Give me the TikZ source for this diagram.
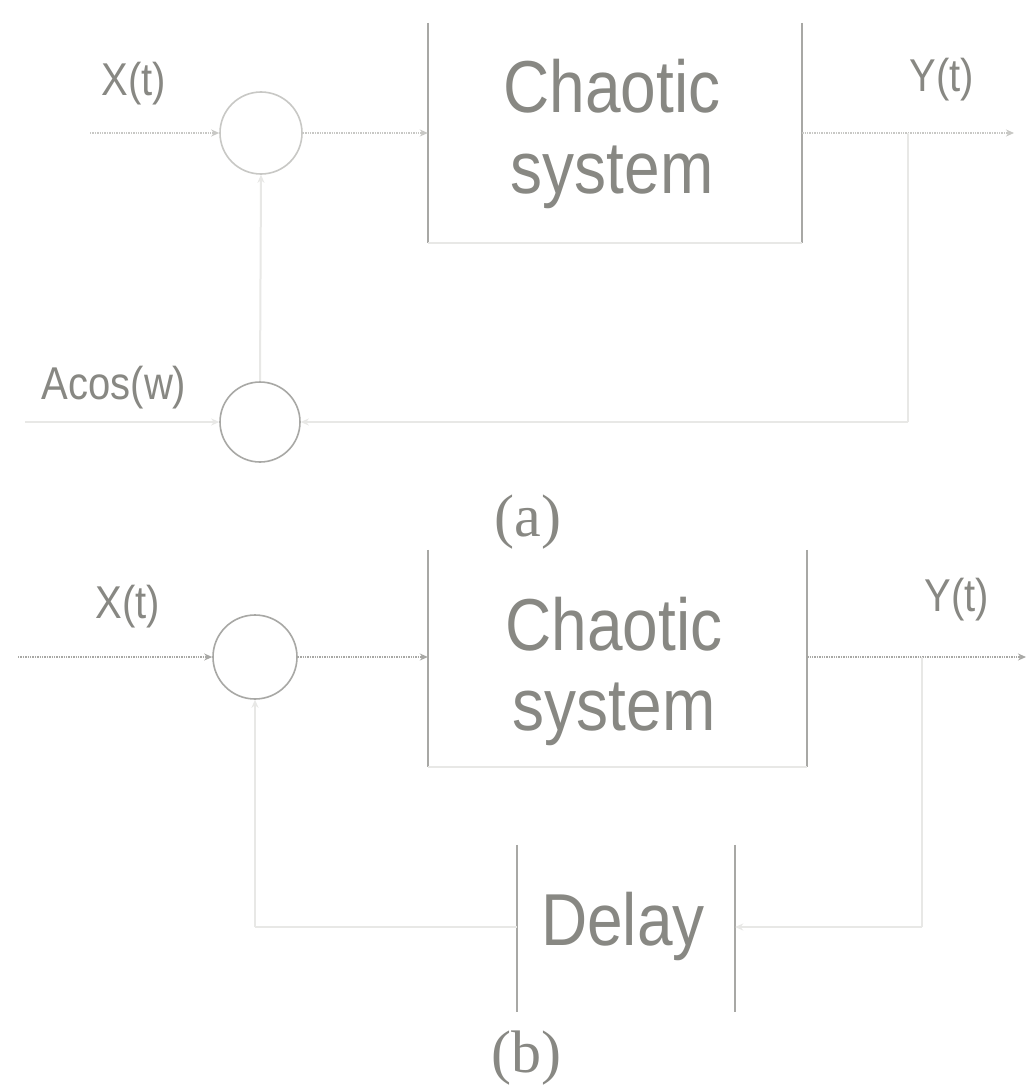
\documentclass[tikz,border=0pt]{standalone}
\usepackage{fontspec}
\usepackage{graphicx}
\setmainfont{Liberation Sans}
\newfontfamily\serifx{Liberation Serif}
\usetikzlibrary{arrows.meta}
\definecolor{txt}{RGB}{136,136,131}
\definecolor{side}{RGB}{168,168,165}
\definecolor{wire}{RGB}{200,200,197}
\definecolor{faint}{RGB}{232,232,230}
\newcommand{\tallx}[1]{\scalebox{1}[1.15]{#1}}
\begin{document}
\begin{tikzpicture}[x=1pt,y=-1pt,
  blk/.style={draw=none,inner sep=0pt},
  big/.style={text=txt,inner sep=0pt,anchor=base,font=\fontsize{64}{70}\selectfont},
  sumc/.style={circle,draw=wire,line width=1.6pt,inner sep=0pt},
  bside/.style={draw=side,line width=2.2pt},
  bfaint/.style={draw=faint,line width=2pt},
  wirel/.style={draw=wire,line width=1.4pt,densely dotted},
  fbl/.style={draw=faint,line width=2pt},
  arr/.style={-{Stealth[length=8pt,width=7pt]}},
  lbl/.style={text=txt,inner sep=0pt,font=\fontsize{40}{44}\selectfont},
  figcap/.style={text=txt,inner sep=0pt,font=\serifx\fontsize{60}{64}\selectfont}]
\useasboundingbox[fill=white] (0,0) rectangle (1031,1089);

% ---------- (a) ----------
\node[blk,minimum width=374pt,minimum height=220pt] (ca) at (615,133) {};
\draw[bside] (ca.north west) -- (ca.south west);
\draw[bside] (ca.north east) -- (ca.south east);
\draw[bfaint] (ca.south west) -- (ca.south east);
\node[big] (ca1) at (612,113) {\tallx{Chaotic}};
\node[big] (ca2) at (612,193) {\tallx{system}};

\node[sumc,minimum size=82pt] (s1) at (261,133) {};
\node[sumc,minimum size=80pt,draw=side] (m1) at (260,422) {};

\coordinate (xin1) at (90,133);
\coordinate (yout1) at (1014,133);
\coordinate (fa1) at (908,133);
\coordinate (fa2) at (908,422);
\coordinate (ain) at (25,422);

\draw[wirel,arr] (xin1) -- (s1.west);
\draw[wirel,arr] (s1.east) -- (ca.west |- s1.east);
\draw[wirel,arr] (ca.east |- s1.east) -- (yout1);
\draw[fbl] (fa1) -- (fa2);
\draw[fbl,arr] (fa2) -- (m1.east);
\draw[fbl,arr] (ain) -- (m1.west);
\draw[fbl,arr] (m1.north) -- (s1.south);

\node[lbl] (xl1) at (134,84) {\tallx{X(t)}};
\node[lbl] (yl1) at (942,80) {\tallx{Y(t)}};
\node[lbl] (al) at (114,388) {\tallx{Acos(w)}};
\node[figcap] (capa) at (528,522) {(a)};

% ---------- (b) ----------
\node[blk,minimum width=379pt,minimum height=217pt] (cb) at (617.5,658.5) {};
\draw[bside] (cb.north west) -- (cb.south west);
\draw[bside] (cb.north east) -- (cb.south east);
\draw[bfaint] (cb.south west) -- (cb.south east);
\node[big] (cb1) at (614,650) {\tallx{Chaotic}};
\node[big] (cb2) at (614,730) {\tallx{system}};

\node[sumc,minimum size=84pt,draw=side] (s2) at (255,657) {};

\node[blk,minimum width=218pt,minimum height=167pt] (dl) at (626,928.5) {};
\draw[bside] (dl.north west) -- (dl.south west);
\draw[bside] (dl.north east) -- (dl.south east);
\node[big] (dlt) at (623,945) {\tallx{Delay}};

\coordinate (xin2) at (18,657);
\coordinate (yout2) at (1026,657);
\coordinate (fb1) at (922,657);
\coordinate (fb2) at (922,927);
\coordinate (fb3) at (255,927);

\draw[wirel,draw=side,arr] (xin2) -- (s2.west);
\draw[wirel,draw=side,arr] (s2.east) -- (cb.west |- s2.east);
\draw[wirel,draw=side,arr] (cb.east |- s2.east) -- (yout2);
\draw[fbl] (fb1) -- (fb2);
\draw[fbl,arr] (fb2) -- (dl.east |- fb2);
\draw[fbl] (dl.west |- fb2) -- (fb3);
\draw[fbl,arr] (fb3) -- (s2.south);

\node[lbl] (xl2) at (128,607) {\tallx{X(t)}};
\node[lbl] (yl2) at (957,600) {\tallx{Y(t)}};
\node[figcap] (capb) at (526,1058) {(b)};
\end{tikzpicture}
\end{document}
